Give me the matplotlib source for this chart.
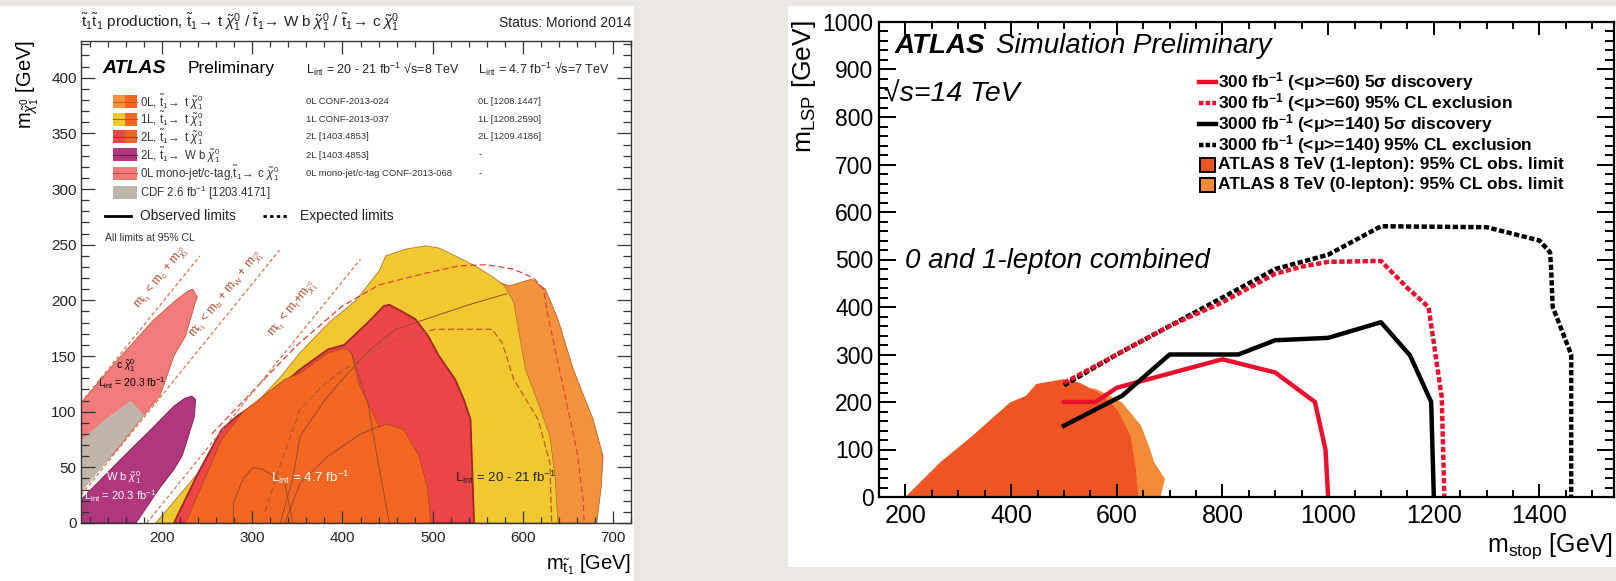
import matplotlib
matplotlib.use("Agg")
import matplotlib.pyplot as plt
from matplotlib.patches import Rectangle
from matplotlib.lines import Line2D
from matplotlib.ticker import MultipleLocator

# ---------------- left: stop summary, Moriond 2014 ----------------
zero_lep_x = [230, 300, 400, 450, 500, 560, 585, 610, 625, 639, 656, 678, 689, 687, 682]
zero_lep_y = [0, 80, 160, 190, 210, 220, 213, 219, 210, 183, 138, 93, 60, 33, 0]

one_lep_x = [193, 240, 270, 301, 330, 353, 385, 415, 441, 448, 470, 492, 507, 530, 547,
             565, 580, 590, 603, 617, 630, 636, 639]
one_lep_y = [0, 45, 75, 105, 130, 153, 180, 200, 227, 240, 246, 249, 247, 238, 231,
             222, 213, 198, 138, 108, 78, 40, 0]

two_lep_x = [213, 240, 266, 283, 327, 353, 384, 402, 428, 446, 452, 466, 481, 495, 507,
             525, 535, 542, 546]
two_lep_y = [0, 45, 84, 96, 120, 138, 156, 160, 180, 195, 196, 190, 183, 168, 150,
             129, 110, 93, 0]

seven_tev_x = [226, 250, 266, 290, 336, 354, 384, 402, 410, 419, 437, 441, 448, 468, 485, 494, 498]
seven_tev_y = [0, 45, 75, 100, 129, 135, 153, 157, 153, 123, 93, 86, 89, 84, 60, 33, 0]

wb_x = [110, 110, 150, 190, 213, 225, 233, 237, 236, 228, 222, 213, 196, 171]
wb_y = [0, 21, 54, 86, 105, 112, 114, 111, 96, 75, 60, 48, 30, 0]

monojet_x = [110, 150, 190, 215, 228, 234, 239, 236, 226, 213, 204, 198, 180, 150, 110]
monojet_y = [108, 146, 182, 200, 208, 210, 203, 196, 168, 150, 129, 115, 97, 66, 30]

cdf_x = [110, 110, 135, 165, 180]
cdf_y = [27, 74, 92, 110, 97]

exp_0l_x = [255, 300, 350, 400, 441, 490, 529, 560, 590, 612, 623, 627, 640, 660, 667, 668]
exp_0l_y = [80, 118, 160, 195, 214, 224, 231, 232, 228, 220, 210, 190, 140, 65, 20, 0]

exp_1l_x = [314, 330, 353, 380, 402, 437, 470, 503, 566, 577, 590, 617, 630, 632]
exp_1l_y = [10, 50, 102, 125, 138, 156, 168, 174, 174, 162, 129, 93, 54, 0]

obs7_a_x = [331, 345, 353, 380, 402, 430, 459, 503, 540, 582]
obs7_a_y = [0, 40, 78, 110, 131, 155, 174, 186, 196, 206]
obs7_b_x = [279, 279, 290, 301, 312, 336, 345]
obs7_b_y = [0, 18, 40, 50, 48, 36, 0]
obs7_c_x = [336, 353, 384, 420, 441]
obs7_c_y = [0, 36, 60, 80, 87]
obs7_d_x = [410, 428, 441, 452]
obs7_d_y = [153, 108, 48, 0]

kin_c_x, kin_c_y = [110, 242], [108, 240]
kin_w_x, kin_w_y = [110, 330], [25, 245]
kin_t_x, kin_t_y = [183, 420], [0, 237]

legend_labels = [
    r'0L, $\tilde{\mathrm{t}}_1\!\rightarrow$ t $\tilde{\chi}^0_1$',
    r'1L, $\tilde{\mathrm{t}}_1\!\rightarrow$ t $\tilde{\chi}^0_1$',
    r'2L, $\tilde{\mathrm{t}}_1\!\rightarrow$ t $\tilde{\chi}^0_1$',
    r'2L, $\tilde{\mathrm{t}}_1\!\rightarrow$ W b $\tilde{\chi}^0_1$',
    r'0L mono-jet/c-tag,$\tilde{\mathrm{t}}_1\!\rightarrow$ c $\tilde{\chi}^0_1$',
    r'CDF 2.6 fb$^{-1}$ [1203.4171]',
]
refs_8tev = ['0L CONF-2013-024', '1L CONF-2013-037', '2L [1403.4853]',
             '2L [1403.4853]', '0L mono-jet/c-tag CONF-2013-068']
refs_7tev = ['0L [1208.1447]', '1L [1208.2590]', '2L [1209.4186]', '-', '-']

# ---------------- right: HL-LHC stop projection ----------------
r_zero_lep_x = [200, 300, 400, 500, 560, 610, 646, 660, 671, 691, 683]
r_zero_lep_y = [0, 100, 190, 230, 228, 199, 150, 110, 73, 38, 0]
r_one_lep_x = [200, 266, 327, 398, 428, 448, 499, 529, 570, 600, 626, 636, 641]
r_one_lep_y = [0, 73, 129, 199, 213, 238, 248, 241, 217, 185, 129, 59, 0]

disc_300_x = [500, 560, 600, 700, 800, 900, 975, 995, 1000]
disc_300_y = [200, 200, 230, 260, 290, 262, 200, 100, 0]
excl_300_x = [500, 600, 700, 800, 900, 950, 1000, 1100, 1150, 1190, 1215, 1220]
excl_300_y = [240, 300, 360, 410, 470, 485, 495, 497, 440, 400, 210, 0]
disc_3000_x = [500, 610, 700, 830, 900, 1000, 1100, 1155, 1195, 1200]
disc_3000_y = [150, 213, 300, 300, 330, 335, 368, 298, 200, 0]
excl_3000_x = [500, 600, 700, 800, 900, 1000, 1050, 1100, 1300, 1400, 1420, 1422, 1425, 1460, 1460]
excl_3000_y = [235, 300, 360, 420, 480, 510, 540, 570, 568, 540, 515, 480, 400, 300, 0]

right_legend = [
    r'300 fb$^{\mathbf{-1}}$ (<μ>=60) 5σ discovery',
    r'300 fb$^{\mathbf{-1}}$ (<μ>=60) 95% CL exclusion',
    r'3000 fb$^{\mathbf{-1}}$ (<μ>=140) 5σ discovery',
    r'3000 fb$^{\mathbf{-1}}$ (<μ>=140) 95% CL exclusion',
    'ATLAS 8 TeV (1-lepton): 95% CL obs. limit',
    'ATLAS 8 TeV (0-lepton): 95% CL obs. limit',
]

# ---------------- style ----------------
plt.rcParams['font.family'] = ['Liberation Sans', 'DejaVu Sans']
plt.rcParams['mathtext.fontset'] = 'custom'
plt.rcParams['mathtext.rm'] = 'Liberation Sans'
plt.rcParams['mathtext.it'] = 'Liberation Sans:italic'
plt.rcParams['mathtext.bf'] = 'Liberation Sans:bold'
plt.rcParams['mathtext.sf'] = 'Liberation Sans'

C_0L, C_7, C_1L, C_2L = '#f4923c', '#f26722', '#f0c932', '#ec4548'
C_WB, C_MJ, C_CDF = '#b0367e', '#f27a78', '#c1b5aa'
R_RED = '#e8102c'

W, H, DPI = 1616, 581, 100


def fx(px):
    return px / W


def fy(py):
    return 1 - py / H


fig = plt.figure(figsize=(W / DPI, H / DPI), dpi=DPI, facecolor='#ebe8e3')
fig.add_artist(Rectangle((fx(0), fy(581)), fx(634), (581 - 6) / H, transform=fig.transFigure,
                         facecolor='white', edgecolor='none', zorder=-5))
fig.add_artist(Rectangle((fx(788), fy(567)), (1616 - 788) / W, (567 - 6) / H,
                         transform=fig.transFigure, facecolor='white', edgecolor='none', zorder=-5))


def T(px, py, s, **kw):
    return fig.text(fx(px), fy(py), s, **kw)


# ================= left panel =================
axL = fig.add_axes([fx(81), fy(523), (631 - 81) / W, (523 - 41) / H])
axL.patch.set_alpha(0)
axL.set_xlim(110, 720)
axL.set_ylim(0, 433)

axL.fill(zero_lep_x, zero_lep_y, fc=C_0L, ec='#b8602c', lw=0.6, zorder=1.0)
axL.fill(one_lep_x, one_lep_y, fc=C_1L, ec='#b07a2a', lw=0.6, zorder=1.1)
axL.fill(two_lep_x, two_lep_y, fc=C_2L, ec='#a02525', lw=1.3, zorder=1.2)
axL.fill(seven_tev_x, seven_tev_y, fc=C_7, ec='#b0481e', lw=0.6, zorder=1.3)
axL.fill(monojet_x, monojet_y, fc=C_MJ, ec='#c05a3c', lw=0.6, zorder=1.2)
axL.fill(cdf_x, cdf_y, fc=C_CDF, ec='none', zorder=1.3)
axL.fill(wb_x, wb_y, fc=C_WB, ec='#7a2058', lw=0.6, zorder=1.2)

for xs, ys in [(obs7_a_x, obs7_a_y), (obs7_b_x, obs7_b_y), (obs7_c_x, obs7_c_y), (obs7_d_x, obs7_d_y)]:
    axL.plot(xs, ys, color='#9a4a2a', lw=0.7, zorder=1.8)
axL.plot(exp_0l_x, exp_0l_y, color='#e0443a', lw=0.9, dashes=(5, 2.5), zorder=1.9)
axL.plot(exp_1l_x, exp_1l_y, color='#b85a2a', lw=0.9, dashes=(5, 2.5), zorder=1.9)
for xs, ys in [(kin_c_x, kin_c_y), (kin_w_x, kin_w_y), (kin_t_x, kin_t_y)]:
    axL.plot(xs, ys, color='#cc7a50', lw=0.9, dashes=(3, 2), zorder=1.9)

kin_kw = dict(color='#b0502e', fontsize=8.5, rotation=45, rotation_mode='anchor',
              transform_rotates_text=True, ha='center', va='center', zorder=3)
axL.text(200, 220, r'm$_{\tilde{\mathrm{t}}_1}$ < m$_\mathrm{c}$ + m$_{\tilde{\chi}^0_1}$', **kin_kw)
axL.text(272, 205, r'm$_{\tilde{\mathrm{t}}_1}$ < m$_\mathrm{b}$ + m$_\mathrm{W}$ + m$_{\tilde{\chi}^0_1}$', **kin_kw)
axL.text(345, 192, r'm$_{\tilde{\mathrm{t}}_1}$ < m$_\mathrm{t}$+m$_{\tilde{\chi}^0_1}$', **kin_kw)

axL.text(160, 141, r'c $\tilde{\chi}^0_1$', fontsize=7.5, ha='center', va='center', zorder=3)
axL.text(166, 126, r'L$_{\mathrm{int}}$ = 20.3 fb$^{-1}$', fontsize=7.5, ha='center', va='center', zorder=3)
axL.text(157, 41, r'W b $\tilde{\chi}^0_1$', fontsize=8, color='white', ha='center', va='center', zorder=3)
axL.text(153, 24.5, r'L$_{\mathrm{int}}$ = 20.3 fb$^{-1}$', fontsize=8, color='white',
         ha='center', va='center', zorder=3)
axL.text(364, 41, r'L$_{\mathrm{int}}$ = 4.7 fb$^{-1}$', fontsize=9.5, color='white',
         ha='center', va='center', zorder=3)
axL.text(581, 41, r'L$_{\mathrm{int}}$ = 20 - 21 fb$^{-1}$', fontsize=9.5, color='#222222',
         ha='center', va='center', zorder=3)

axL.xaxis.set_major_locator(MultipleLocator(100))
axL.xaxis.set_minor_locator(MultipleLocator(20))
axL.yaxis.set_major_locator(MultipleLocator(50))
axL.yaxis.set_minor_locator(MultipleLocator(10))
axL.tick_params(which='both', direction='in', top=True, right=True, labelsize=11,
                width=0.9, color='#333333', labelcolor='#222222')
axL.tick_params(axis='x', which='major', length=9, pad=6)
axL.tick_params(axis='x', which='minor', length=4.5)
axL.tick_params(axis='y', which='major', length=10, pad=3)
axL.tick_params(axis='y', which='minor', length=5.5)
for s in axL.spines.values():
    s.set_linewidth(1.0)
    s.set_color('#333333')

T(81, 27, r'$\tilde{\mathrm{t}}_1\tilde{\mathrm{t}}_1$ production, '
          r'$\tilde{\mathrm{t}}_1\!\rightarrow\,\mathrm{t}\;\tilde{\chi}^0_1$ / '
          r'$\tilde{\mathrm{t}}_1\!\rightarrow\,\mathrm{W\;b}\;\tilde{\chi}^0_1$ / '
          r'$\tilde{\mathrm{t}}_1\!\rightarrow\,\mathrm{c}\;\tilde{\chi}^0_1$',
  fontsize=11, va='baseline', ha='left', color='#222222')
T(631, 27, 'Status: Moriond 2014', fontsize=10, va='baseline', ha='right', color='#222222')
T(102, 73, 'ATLAS', fontsize=14, weight='bold', style='italic', va='baseline')
T(188, 73, 'Preliminary', fontsize=12.5, va='baseline')
T(306, 74, r'L$_{\mathrm{int}}$ = 20 - 21 fb$^{-1}$ √s=8 TeV', fontsize=9, va='baseline', color='#222222')
T(478, 74, r'L$_{\mathrm{int}}$ = 4.7 fb$^{-1}$ √s=7 TeV', fontsize=9, va='baseline', color='#222222')

rows_y = [101.7, 119.3, 136.7, 155.0, 173.3, 192.7]
box_left = [C_0L, C_1L, C_2L, C_WB, C_MJ, C_CDF]
box_right = [C_7, C_7, C_7, C_WB, C_MJ, C_CDF]
box_line = ['#c4541c', '#c4541c', '#b02828', '#7a1850', '#c84848', None]
for i, yy in enumerate(rows_y):
    fig.add_artist(Rectangle((fx(112.7), fy(yy + 6.5)), 12 / W, 13 / H, transform=fig.transFigure,
                             facecolor=box_left[i], edgecolor='none'))
    fig.add_artist(Rectangle((fx(124.7), fy(yy + 6.5)), 12 / W, 13 / H, transform=fig.transFigure,
                             facecolor=box_right[i], edgecolor='none'))
    if box_line[i]:
        fig.add_artist(Line2D([fx(112.7), fx(136.7)], [fy(yy), fy(yy)], transform=fig.transFigure,
                              color=box_line[i], lw=0.8))
    T(140.4, yy, legend_labels[i], fontsize=8.3, va='center', color='#333333')
    if i < 5:
        T(306.4, yy, refs_8tev[i], fontsize=6.8, va='center', color='#333333')
        T(478.4, yy, refs_7tev[i], fontsize=6.8, va='center', color='#333333')

fig.add_artist(Line2D([fx(104.8), fx(130.5)], [fy(216), fy(216)], transform=fig.transFigure,
                      color='black', lw=2.0))
T(140, 216, 'Observed limits', fontsize=10, va='center', color='#222222')
fig.add_artist(Line2D([fx(263), fx(289)], [fy(216), fy(216)], transform=fig.transFigure,
                      color='black', lw=2.0, dashes=(1.2, 1.2)))
T(300.5, 216, 'Expected limits', fontsize=10, va='center', color='#222222')
T(105, 238, 'All limits at 95% CL', fontsize=7.5, va='center', color='#333333')

T(15, 40, r'm$_{\tilde{\chi}^0_1}$ [GeV]', fontsize=14.5, rotation=90, ha='left', va='top')
T(631, 569, r'm$_{\tilde{\mathrm{t}}_1}$ [GeV]', fontsize=14.5, ha='right', va='baseline')

# ================= right panel =================
axR = fig.add_axes([fx(879), fy(497), (1614 - 879) / W, (497 - 22) / H])
axR.patch.set_alpha(0)
axR.set_xlim(150, 1541)
axR.set_ylim(0, 1000)

axR.fill(r_zero_lep_x, r_zero_lep_y, fc='#f28a38', ec='none', zorder=1.0)
axR.fill(r_one_lep_x, r_one_lep_y, fc='#ef5524', ec='none', zorder=1.1)

dot = (1.2, 0.55)
axR.plot(excl_3000_x, excl_3000_y, color='black', lw=3.2, dashes=dot, zorder=2.0)
axR.plot(excl_300_x, excl_300_y, color=R_RED, lw=3.2, dashes=dot, zorder=2.1)
axR.plot(disc_300_x, disc_300_y, color=R_RED, lw=3.2, zorder=2.2)
axR.plot(disc_3000_x, disc_3000_y, color='black', lw=3.2, zorder=2.3)

axR.xaxis.set_major_locator(MultipleLocator(200))
axR.xaxis.set_minor_locator(MultipleLocator(50))
axR.yaxis.set_major_locator(MultipleLocator(100))
axR.yaxis.set_minor_locator(MultipleLocator(20))
axR.tick_params(which='both', direction='in', top=True, right=True, width=1.4)
axR.tick_params(axis='x', which='major', length=9.5, pad=5, labelsize=18)
axR.tick_params(axis='x', which='minor', length=5)
axR.tick_params(axis='y', which='major', length=12, pad=4, labelsize=16.5)
axR.tick_params(axis='y', which='minor', length=6.5)
for s in axR.spines.values():
    s.set_linewidth(1.6)

T(895, 53, 'ATLAS', fontsize=20, weight='bold', style='italic', va='baseline')
T(996, 53, 'Simulation Preliminary', fontsize=20, style='italic', va='baseline')
T(884, 102, '√s=14 TeV', fontsize=20.5, style='italic', va='baseline')
T(905, 268, '0 and 1-lepton combined', fontsize=20, style='italic', va='baseline')

leg_y = [82, 103, 124, 145, 165, 185]
for i, yy in enumerate(leg_y):
    if i < 4:
        col = R_RED if i < 2 else 'black'
        kw = dict(dashes=(1.0, 0.5)) if i % 2 else {}
        fig.add_artist(Line2D([fx(1199), fx(1216)], [fy(yy), fy(yy)], transform=fig.transFigure,
                              color=col, lw=3.2, **kw))
    else:
        col = '#ef5524' if i == 4 else '#f28a38'
        fig.add_artist(Rectangle((fx(1200), fy(yy + 7)), 15 / W, 14 / H, transform=fig.transFigure,
                                 facecolor=col, edgecolor='black', lw=1.4))
    T(1218, yy, right_legend[i], fontsize=12.5, weight='bold', va='center')

T(790, 20, r'm$_{\mathrm{LSP}}$ [GeV]', fontsize=19, rotation=90, ha='left', va='top')
T(1613, 552, r'm$_{\mathrm{stop}}$ [GeV]', fontsize=18, ha='right', va='baseline')

fig.savefig('out.png', dpi=DPI, facecolor=fig.get_facecolor())
